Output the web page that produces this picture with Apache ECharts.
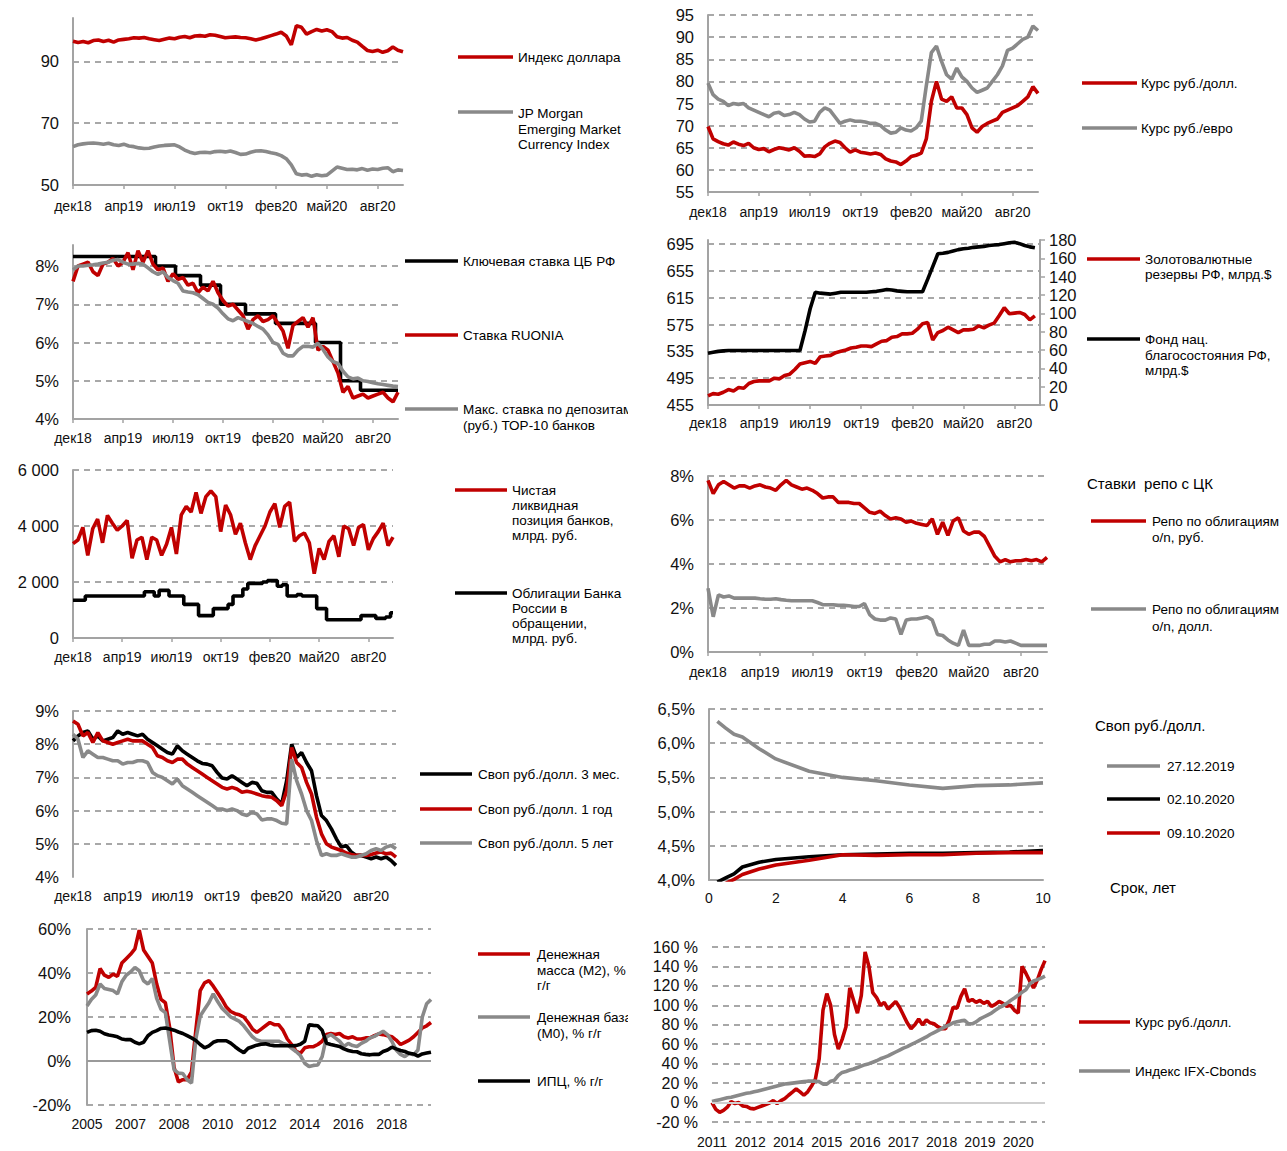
<!DOCTYPE html>
<html><head><meta charset="utf-8">
<script src="https://cdn.jsdelivr.net/npm/echarts@6/dist/echarts.min.js"></script>
<style>
html,body{margin:0;padding:0;background:#fff;width:1287px;height:1151px;overflow:hidden;}
.pn{position:absolute;top:0;height:1151px;overflow:hidden;}
</style></head><body>
<div id="p1" class="pn" style="left:0;width:628px"></div>
<div id="p3" class="pn" style="left:0;width:628px"></div>
<div id="p5" class="pn" style="left:0;width:628px"></div>
<div id="p7" class="pn" style="left:0;width:628px"></div>
<div id="p9" class="pn" style="left:0;width:628px"></div>
<div id="p2" class="pn" style="left:640px;width:647px"></div>
<div id="p4" class="pn" style="left:640px;width:647px"></div>
<div id="p6" class="pn" style="left:640px;width:647px"></div>
<div id="p8" class="pn" style="left:640px;width:647px"></div>
<div id="p10" class="pn" style="left:640px;width:647px"></div>
<script>
// ---------- tick labels / categories ----------
const DATE_TICKS = ['дек18','апр19','июл19','окт19','фев20','май20','авг20'];
const DATE_N = 66;
const MONEY_TICKS = ['2005','2007','2008','2010','2012','2014','2016','2018'];
const MONEY_N = 80;
const CUM_TICKS = ['2011','2012','2014','2015','2016','2017','2018','2019','2020'];
const CUM_N = 88;
const TENORS = [0.25,0.5,0.75,1,1.5,2,3,4,5,6,7,8,9,10];

// ---------- panel 1 ----------
const dollarIndex = [96.5,96.1,96.4,96.0,96.7,96.9,96.4,96.8,96.2,96.9,97.1, 97.3,97.6,97.5,97.7,97.3,97.0,96.7,97.1,97.5,97.3, 97.8,98.0,97.6,98.2,98.3,98.1,98.6,98.4,98.0,97.6, 97.8,97.9,97.7,97.6,97.3,96.9,97.3,97.8,98.3,98.8, 99.4,98.2,95.3,101.5,101.0,98.8,99.6,100.3,99.8,100.2, 99.6,97.9,97.5,97.7,96.8,96.2,94.8,93.5,93.2,93.6, 92.9,93.4,94.6,93.6,93.1];
const jpmEmci = [62.4,63.0,63.3,63.5,63.6,63.4,63.2,63.5,63.0,62.8,63.2, 62.6,62.4,62.0,61.8,61.9,62.3,62.6,62.8,62.9,63.0, 62.3,61.3,60.6,60.2,60.5,60.6,60.4,60.8,60.9,60.7, 61.0,60.5,59.9,60.0,60.6,61.0,61.1,60.8,60.4,60.1, 59.5,58.5,56.5,53.6,53.2,53.4,52.8,53.3,53.0,53.2, 54.5,55.8,55.4,55.0,55.1,54.9,55.3,54.8,55.2,55.0, 55.4,55.6,54.3,54.9,54.7];
// ---------- panel 2 ----------
const usdRub = [69.8,67.0,66.4,65.9,65.6,66.3,65.8,65.5,66.0,65.0,64.6, 64.8,64.1,64.6,65.0,64.8,64.5,65.0,64.2,63.1,63.2, 63.0,63.6,65.2,66.0,66.5,66.2,65.0,64.0,64.5,64.0, 63.8,63.6,63.8,63.5,62.5,62.0,61.8,61.2,62.0,63.0, 63.3,63.8,67.0,75.5,80.0,76.0,75.5,76.5,74.0,74.0, 72.5,69.5,68.5,69.8,70.5,71.0,71.5,73.0,73.5,74.0, 74.5,75.5,76.5,78.8,77.3];
const eurRub = [79.6,77.0,76.0,75.5,74.5,75.0,74.8,75.0,74.0,73.5,73.0, 72.5,72.0,72.8,73.0,72.3,72.5,73.0,72.5,71.5,70.8, 71.0,73.0,74.0,73.5,72.0,70.5,71.0,71.3,71.0,71.0, 70.8,70.5,70.5,70.0,69.0,68.3,68.5,69.5,69.0,68.8, 69.5,71.0,79.0,86.5,88.0,84.5,81.5,80.5,83.0,81.0, 80.0,78.5,77.5,78.0,78.5,80.0,81.5,83.5,87.0,87.5, 88.5,89.5,90.0,92.5,91.5];
// ---------- panel 3 ----------
const keyRate = [8.25,8.25,8.25,8.25,8.25,8.25,8.25,8.25,8.25,8.25,8.25, 8.25,8.25,8.25,8.25,8.25,8.25,8.0,8.0,8.0,8.0, 7.75,7.75,7.75,7.75,7.75,7.5,7.5,7.5,7.5,7.0, 7.0,7.0,7.0,7.0,6.75,6.75,6.75,6.75,6.75,6.75, 6.5,6.5,6.5,6.5,6.5,6.5,6.5,6.5,6.0,6.0, 6.0,6.0,6.0,5.0,5.0,5.0,5.0,4.75,4.75,4.75, 4.75,4.75,4.75,4.75,4.75];
const ruonia = [7.6,8.0,8.05,8.1,7.85,7.75,8.05,8.1,8.2,8.0,8.1, 8.35,7.9,8.4,8.1,8.4,8.05,7.9,7.95,7.6,7.8, 7.65,7.7,7.5,7.55,7.3,7.45,7.35,7.6,7.3,7.1, 6.95,7.0,6.85,6.7,6.35,6.6,6.7,6.55,6.6,6.7, 6.5,6.3,5.85,6.45,6.55,6.65,6.4,6.65,5.8,5.9, 5.8,5.5,5.2,4.7,4.85,4.55,4.6,4.65,4.55,4.6, 4.65,4.7,4.55,4.45,4.7];
const maxDeposit = [7.9,8.0,8.0,8.02,8.03,8.05,8.08,8.1,8.15,8.17,8.1, 8.05,8.05,8.07,8.05,7.95,7.85,7.78,7.85,7.7,7.62, 7.55,7.35,7.32,7.3,7.25,7.15,7.05,7.0,6.9,6.75, 6.62,6.57,6.65,6.6,6.55,6.5,6.42,6.35,6.2,6.0, 5.95,5.72,5.65,5.65,5.8,5.9,5.9,5.88,5.98,5.82, 5.62,5.5,5.45,5.25,5.1,5.05,5.07,5.0,4.98,4.95, 4.92,4.9,4.88,4.86,4.85];
// ---------- panel 4 ----------
const fxReserves = [468.6,472,471,474,478,476,481,480,487,490,491, 491,491,495,494,499,501,508,516,518,520, 517,527,528,529,533,535,537,540,541,543, 543,542,546,550,551,556,557,561,561,562, 568,576,578,552,563,566,571,567,563,567, 567,568,573,570,574,577,588,600,591,592, 593,590,582,588];
const nwFund = [56.5,57.5,58.5,59,59.5,59.5,59.5,59.5,59.5,59.5,59.5, 59.5,59.5,59.5,59.5,59.5,59.5,59.5,59.5,81,105, 123,122,121.5,121,122,123,123,123,123,123, 123,123.5,124,125,126,125.5,124.5,124,123.5,123.5, 123.5,123.5,137,151,165,165.5,166.5,168,169.5,170.5, 171,172,172.5,173,174,174.5,175,176,177,177.5, 176,174,172.5,171.5];
// ---------- panel 5 ----------
const liquidity = [3370,3500,3950,2950,3900,4250,3400,4380,4100,3850,4000, 4200,2850,3500,3600,2800,3600,3500,2950,3350,3950, 3000,4400,4700,4500,5200,4450,5050,5250,5050,3800, 4750,4400,3700,4100,3400,2800,3300,3650,4000,4500, 4800,3950,4700,4850,3450,3650,3750,3400,2300,3200, 2800,3450,3650,2900,4000,3900,3300,3950,4050,3150, 3550,3800,4100,3300,3600];
const cbrBonds = [1350,1350,1350,1500,1500,1500,1500,1500,1500,1500,1500, 1500,1500,1500,1500,1650,1650,1500,1700,1700,1500, 1500,1500,1200,1200,1200,800,800,800,1050,1050, 1050,1200,1500,1500,1750,1950,1950,1950,2000,2050, 2050,1850,1900,1500,1500,1550,1500,1500,1500,1050, 1050,650,650,650,650,650,650,650,800,800, 800,700,700,750,900];
// ---------- panel 6 ----------
const repoRub = [7.8,7.2,7.6,7.75,7.6,7.45,7.55,7.55,7.45,7.55,7.6, 7.5,7.45,7.35,7.6,7.8,7.6,7.5,7.4,7.45,7.35, 7.2,7.0,7.05,7.05,6.8,6.8,6.8,6.75,6.75,6.55, 6.35,6.3,6.4,6.2,6.05,6.1,6.05,5.9,5.95,5.85, 5.8,5.75,6.05,5.35,5.9,5.3,5.95,6.1,5.5,5.35, 5.45,5.45,5.25,4.8,4.35,4.1,4.2,4.1,4.15,4.15, 4.2,4.15,4.2,4.1,4.3];
const repoUsd = [2.9,1.6,2.6,2.5,2.55,2.45,2.45,2.45,2.45,2.45,2.42, 2.4,2.4,2.42,2.38,2.35,2.33,2.33,2.33,2.33,2.33, 2.25,2.15,2.15,2.15,2.12,2.12,2.1,2.07,2.07,2.2, 1.7,1.5,1.45,1.45,1.55,1.5,0.8,1.45,1.5,1.5, 1.55,1.6,1.45,0.8,0.75,0.55,0.4,0.3,1.0,0.3, 0.3,0.3,0.35,0.35,0.5,0.5,0.45,0.5,0.4,0.3, 0.3,0.3,0.3,0.3,0.3];
// ---------- panel 7 ----------
const swap3m = [8.1,8.25,8.35,8.4,8.15,8.25,8.1,8.15,8.2,8.4,8.3, 8.35,8.3,8.25,8.3,8.15,8.05,7.95,7.85,7.75,7.7, 7.95,7.8,7.7,7.6,7.5,7.42,7.4,7.35,7.15,6.98, 6.95,7.05,6.95,6.85,6.75,6.85,6.82,6.6,6.55,6.55, 6.35,6.2,6.9,8.0,7.6,7.75,7.45,7.2,6.45,5.85, 5.7,5.45,5.15,4.9,4.95,4.75,4.65,4.65,4.6,4.55, 4.6,4.55,4.6,4.5,4.35];
const swap1y = [8.7,8.6,8.25,8.35,8.05,8.35,8.1,8.05,8.0,8.05,8.1, 8.15,8.1,8.1,8.1,8.0,7.9,7.65,7.6,7.5,7.45, 7.55,7.55,7.4,7.3,7.2,7.1,7.0,6.9,6.8,6.7, 6.65,6.7,6.65,6.55,6.58,6.55,6.5,6.45,6.42,6.4, 6.3,6.15,6.6,7.9,7.45,7.3,6.85,6.5,5.8,5.3, 5.0,4.9,4.85,4.8,4.72,4.68,4.65,4.65,4.65,4.68, 4.72,4.75,4.7,4.72,4.6];
const swap5y = [8.3,8.15,7.6,7.8,7.7,7.6,7.6,7.55,7.5,7.5,7.4, 7.45,7.45,7.5,7.5,7.45,7.15,7.05,7.0,6.9,6.8, 6.95,6.75,6.65,6.55,6.45,6.35,6.25,6.15,6.05,6.05, 6.0,6.05,6.0,5.9,5.85,5.95,5.9,5.72,5.75,5.75, 5.7,5.62,5.6,7.55,6.9,6.5,6.0,5.7,5.1,4.65, 4.7,4.65,4.65,4.7,4.65,4.6,4.6,4.65,4.7,4.8, 4.85,4.8,4.9,4.95,4.85];
// ---------- panel 8 ----------
const curve20191227 = [6.32,6.22,6.13,6.09,5.92,5.77,5.59,5.5,5.45,5.39,5.34,5.38,5.39,5.42];
const curve20201002 = [3.97,4.03,4.09,4.19,4.26,4.3,4.34,4.37,4.38,4.39,4.39,4.4,4.41,4.43];
const curve20201009 = [3.88,3.95,4.01,4.08,4.16,4.22,4.29,4.37,4.36,4.37,4.37,4.39,4.4,4.4];
// ---------- panel 9 ----------
const m2 = [30.5,31.8,33.5,42,39,38,39.5,38.5,44.5,46.5, 48.5,51,59.5,50.5,47.5,44.5,35,28,26.5,15, -3,-9.5,-8.5,-8.5,-5,14,32,35.5,36.5,34, 31,28,24.5,22.5,21.5,21,20,17.5,14.5,13, 14.5,16,17.5,16.5,16.5,14,10,7.5,4.5,3.5, 6,6.5,6.5,7.5,9,12,12.5,12,12.5,11, 10.5,11,10,10,10.5,10.5,11.5,12.3,12,11.5, 11,9.5,7.5,8.5,9.5,11,13,15,16,17.5];
const m0 = [25,28,30,35,33,32.5,32,30.5,36,39, 40.5,42.5,41,36.5,35,37.5,28.5,23.5,22,9, -4,-5.5,-5.7,-8.5,-10,10,20.5,23.5,26.5,30.5, 27,24,22,20,19,18,16,13.5,11,9.5, 9,9,9,9,9,8,7.4,5.8,4.3,2.5, -1,-2.5,-2,-1.8,2,11,12,10.5,9,6.6, 8,7,6.6,8,9,10.5,11.2,12.4,13.5,12, 9,5,3,2,3.5,2.8,5,20,26,28];
const cpi = [13,13.8,14,13.5,12.4,11.8,11.5,11,10,9.7, 9.7,8.5,7.8,8.5,11.5,13,13.8,14.8,15,14.5, 14,13.2,12.5,11.5,10.5,9.3,7.5,6,6.9,8.5, 9.2,9.2,9.2,8.1,6.5,5,3.8,5.8,6.5,7.2, 7.6,7.8,7.3,7,6.9,6.9,6.9,6.9,7,7.6, 9,16.5,16.2,16,14,8.1,7.5,7,6.6,5.5, 4.8,4.3,4.2,3.3,3,2.8,3.1,3,4.3,5, 6.3,5.5,4.8,4.3,3.5,3.2,2.2,3.2,3.6,4];
// ---------- panel 10 ----------
const usdRubCum = [0,-7,-10,-8,-4.8,1,-1,0,-3.5,-4, -6,-6.5,-5,-3.5,-2,-0.5,2,-1,2,4, 7.5,10.7,14,11,7.5,11,17,24,45,95, 112,100,70,55,65,78,118,105,92,110, 155,140,113,108,100,103,96,100,104,98, 90,82,76,80,86,80,85,82,81,78, 76,76,85,98,97,109,117,104,106,103, 105,102,104,99,101,104,102,99,100,95, 92,140,133,125,118,126,137,146];
const ifxCbonds = [1,2,3,4,5,5.5,6.5,7.5,8.5,9.5, 10,11,12,13,14,15,16,17,18,19, 19.5,20,20.5,21,21.5,22,22,22,21.5,19, 19,22,23,28,31,32,33.5,34.5,36,37.5, 39,40,41.5,43,45,46.5,48,50,52,54, 56,57.5,59.5,61.5,63.5,65.5,67.5,70,72,74, 76,78,80,82,83,84,84.5,81,81,83, 86,88,90,92,95,97.5,99.5,102,105,107.5, 110.5,113.5,116,122,125,126.5,128,130];

// ---------- styling helpers ----------
const FONT = '"Liberation Sans", Arial, Helvetica, sans-serif';
const RED = '#c00000', GRAY = '#898989', BLACK = '#000000';
const GRIDC = '#8c8c8c', AXISC = '#a3a3a3', TXT = '#111111';
const LW = 3.6;
const pct = v => v + '%';

function catAxis(n, ticks, o) {
  o = o || {};
  return {
    type: 'category', boundaryGap: false,
    data: Array.from({length: n}, (_, i) => String(i)),
    axisLine: {show: o.line !== false, lineStyle: {color: AXISC, width: 2}},
    axisTick: {show: !!o.tick, interval: 9, length: 4, lineStyle: {color: AXISC, width: 1.5}},
    axisLabel: {interval: 9, margin: o.margin || 12, fontSize: 14, color: TXT, fontFamily: FONT,
      formatter: (v, i) => (i % 10 === 0 && ticks[i / 10]) ? ticks[i / 10] : ''},
    splitLine: {show: false}
  };
}
function valAxis(min, max, interval, fmt, o) {
  o = o || {};
  return {
    type: 'value', min: min, max: max, interval: interval, position: o.pos || 'left',
    axisLine: {show: o.line !== false, lineStyle: {color: AXISC, width: 2}},
    axisTick: {show: !!o.tick, length: 5, lineStyle: {color: AXISC, width: 1.5}},
    axisLabel: {fontSize: o.fs || 16.5, color: TXT, fontFamily: FONT, margin: o.margin || 14,
      formatter: fmt, showMaxLabel: o.maxLabel !== false, showMinLabel: true},
    splitLine: {show: o.split !== false, showMinLine: !!o.minLine, showMaxLine: o.maxLine !== false,
      lineStyle: {color: GRIDC, width: 1.6, type: [6, 5]}}
  };
}
function ln(data, color, o) {
  o = o || {};
  const s = {type: 'line', data: data, showSymbol: false, symbol: 'none', silent: true,
    lineStyle: {color: color, width: LW}, itemStyle: {color: color}, animation: false,
    yAxisIndex: o.y || 0, xAxisIndex: 0};
  if (o.step) s.step = o.step;
  if (o.zero) s.markLine = {silent: true, symbol: 'none', animation: false, label: {show: false},
    lineStyle: {color: o.zero, type: 'solid', width: 1.8}, data: [{yAxis: 0}]};
  return s;
}
function grid(colLeft, L, T, R, B) {
  return {left: L - colLeft, top: T, width: R - L, height: B - T, containLabel: false, outerBoundsMode: 'none'};
}
// legend/title graphics (positions in page coordinates, shifted by column)
function gfx(colLeft, items, texts) {
  const out = [];
  items.forEach(it => {
    out.push({type: 'line', silent: true, shape: {x1: it.x1 - colLeft, y1: it.y, x2: it.x2 - colLeft, y2: it.y},
      style: {stroke: it.c, lineWidth: 3.4}});
  });
  texts.forEach(t => {
    out.push({type: 'text', silent: true, x: t[1] - colLeft, y: t[2],
      style: {text: t[0], x: 0, y: 0, fill: '#000', font: (t[3] || 13.5) + 'px ' + FONT,
        align: 'left', verticalAlign: 'middle', textAlign: 'left', textVerticalAlign: 'middle'}});
  });
  return out;
}
function mk(id, opt) {
  const c = echarts.init(document.getElementById(id), null, {renderer: 'svg'});
  opt.animation = false;
  opt.textStyle = {fontFamily: FONT};
  c.setOption(opt);
}

// ---------- Panel 1 ----------
mk('p1', {
  grid: grid(0, 73, 18, 403, 185),
  xAxis: catAxis(DATE_N, DATE_TICKS, {tick: true, margin: 14}),
  yAxis: valAxis(50, 104, 20, v => v, {maxLabel: false, maxLine: false}),
  series: [ln(jpmEmci, GRAY), ln(dollarIndex, RED)],
  graphic: gfx(0, [{x1: 458, x2: 513, y: 57, c: RED}, {x1: 458, x2: 513, y: 112, c: GRAY}],
    [['Индекс доллара', 518, 57], ['JP Morgan', 518, 113], ['Emerging Market', 518, 129], ['Currency Index', 518, 144]])
});
// ---------- Panel 2 ----------
mk('p2', {
  grid: grid(640, 708, 15, 1038, 192),
  xAxis: catAxis(DATE_N, DATE_TICKS, {tick: true, margin: 13}),
  yAxis: valAxis(55, 95, 5, v => v),
  series: [ln(eurRub, GRAY), ln(usdRub, RED)],
  graphic: gfx(640, [{x1: 1082, x2: 1137, y: 83, c: RED}, {x1: 1082, x2: 1137, y: 128, c: GRAY}],
    [['Курс руб./долл.', 1141, 83], ['Курс руб./евро', 1141, 128]])
});
// ---------- Panel 3 ----------
mk('p3', {
  grid: grid(0, 73, 245, 398, 419),
  xAxis: catAxis(DATE_N, DATE_TICKS, {tick: true, margin: 12}),
  yAxis: valAxis(4, 8.55, 1, pct, {maxLabel: false, maxLine: false}),
  series: [ln(keyRate, BLACK, {step: 'middle'}), ln(ruonia, RED), ln(maxDeposit, GRAY)],
  graphic: gfx(0, [{x1: 405, x2: 458, y: 261, c: BLACK}, {x1: 405, x2: 458, y: 335, c: RED}, {x1: 405, x2: 458, y: 409, c: GRAY}],
    [['Ключевая ставка ЦБ РФ', 463, 261], ['Ставка RUONIA', 463, 335], ['Макс. ставка по депозитам', 463, 409], ['(руб.) ТОР-10 банков', 463, 425]])
});
// ---------- Panel 4 ----------
mk('p4', {
  grid: grid(640, 708, 240, 1040, 405),
  xAxis: catAxis(DATE_N, DATE_TICKS, {tick: true, margin: 11}),
  yAxis: [valAxis(455, 701, 40, v => v, {maxLabel: false, maxLine: false}),
          valAxis(0, 180, 20, v => v, {pos: 'right', split: false, tick: true, margin: 9})],
  series: [ln(nwFund, BLACK, {y: 1}), ln(fxReserves, RED)],
  graphic: gfx(640, [{x1: 1087, x2: 1140, y: 259, c: RED}, {x1: 1087, x2: 1140, y: 339, c: BLACK}],
    [['Золотовалютные', 1145, 259], ['резервы РФ, млрд.$', 1145, 274], ['Фонд нац.', 1145, 339], ['благосостояния РФ,', 1145, 355], ['млрд.$', 1145, 370]])
});
// ---------- Panel 5 ----------
mk('p5', {
  grid: grid(0, 73, 470, 393, 638),
  xAxis: catAxis(DATE_N, DATE_TICKS, {tick: true, margin: 12}),
  yAxis: valAxis(0, 6000, 2000, v => v === 0 ? '0' : (v / 1000) + ' 000'),
  series: [ln(cbrBonds, BLACK, {step: 'middle'}), ln(liquidity, RED)],
  graphic: gfx(0, [{x1: 455, x2: 507, y: 490, c: RED}, {x1: 455, x2: 507, y: 593, c: BLACK}],
    [['Чистая', 512, 490], ['ликвидная', 512, 505], ['позиция банков,', 512, 520], ['млрд. руб.', 512, 535],
     ['Облигации Банка', 512, 593], ['России в', 512, 608], ['обращении,', 512, 623], ['млрд. руб.', 512, 638]])
});
// ---------- Panel 6 ----------
mk('p6', {
  grid: grid(640, 708, 476, 1047, 652),
  xAxis: catAxis(DATE_N, DATE_TICKS, {tick: true, margin: 13}),
  yAxis: valAxis(0, 8, 2, pct),
  series: [ln(repoUsd, GRAY), ln(repoRub, RED)],
  graphic: gfx(640, [{x1: 1091, x2: 1146, y: 521, c: RED}, {x1: 1091, x2: 1146, y: 609, c: GRAY}],
    [['Ставки  репо с ЦК', 1087, 483, 15], ['Репо по облигациям', 1152, 521], ['о/n, руб.', 1152, 537], ['Репо по облигациям', 1152, 609], ['о/n, долл.', 1152, 626]])
});
// ---------- Panel 7 ----------
mk('p7', {
  grid: grid(0, 73, 711, 396, 877),
  xAxis: catAxis(DATE_N, DATE_TICKS, {line: false, margin: 12}),
  yAxis: valAxis(4, 9, 1, pct),
  series: [ln(swap3m, BLACK), ln(swap1y, RED), ln(swap5y, GRAY)],
  graphic: gfx(0, [{x1: 420, x2: 472, y: 774, c: BLACK}, {x1: 420, x2: 472, y: 809, c: RED}, {x1: 420, x2: 472, y: 843, c: GRAY}],
    [['Своп руб./долл. 3 мес.', 478, 774], ['Своп руб./долл. 1 год', 478, 809], ['Своп руб./долл. 5 лет', 478, 843]])
});
// ---------- Panel 8 ----------
mk('p8', {
  grid: grid(640, 709, 709, 1043, 880),
  xAxis: {type: 'value', min: 0, max: 10, interval: 2,
    axisLine: {show: true, onZero: false, lineStyle: {color: AXISC, width: 2}}, axisTick: {show: false},
    axisLabel: {fontSize: 14, color: TXT, fontFamily: FONT, margin: 11}, splitLine: {show: false}},
  yAxis: valAxis(4, 6.5, 0.5, v => v.toFixed(1).replace('.', ',') + '%'),
  series: [ln(TENORS.map((t, i) => [t, curve20191227[i]]), GRAY),
           ln(TENORS.map((t, i) => [t, curve20201002[i]]), BLACK),
           ln(TENORS.map((t, i) => [t, curve20201009[i]]), RED)],
  graphic: gfx(640, [{x1: 1107, x2: 1160, y: 766, c: GRAY}, {x1: 1107, x2: 1160, y: 799, c: BLACK}, {x1: 1107, x2: 1160, y: 833, c: RED}],
    [['Своп руб./долл.', 1095, 725, 15], ['27.12.2019', 1167, 766], ['02.10.2020', 1167, 799], ['09.10.2020', 1167, 833], ['Срок, лет', 1110, 887, 15]])
});
// ---------- Panel 9 ----------
mk('p9', {
  grid: grid(0, 87, 929, 431, 1105),
  xAxis: catAxis(MONEY_N, MONEY_TICKS, {line: false, margin: 12}),
  yAxis: valAxis(-20, 60, 20, pct, {minLine: true, margin: 16}),
  series: [ln(m2, RED, {zero: '#9a9a9a'}), ln(m0, GRAY), ln(cpi, BLACK)],
  graphic: gfx(0, [{x1: 478, x2: 530, y: 954, c: RED}, {x1: 478, x2: 530, y: 1017, c: GRAY}, {x1: 478, x2: 530, y: 1081, c: BLACK}],
    [['Денежная', 537, 954], ['масса (М2), %', 537, 970], ['г/г', 537, 985], ['Денежная база', 537, 1017], ['(М0), % г/г', 537, 1033], ['ИПЦ, % г/г', 537, 1081]])
});
// ---------- Panel 10 ----------
mk('p10', {
  grid: grid(640, 712, 947, 1045, 1122),
  xAxis: catAxis(CUM_N, CUM_TICKS, {line: false, margin: 13}),
  yAxis: valAxis(-20, 160, 20, v => v + ' %', {line: false, minLine: true, margin: 14, fs: 16}),
  series: [ln(usdRubCum, RED, {zero: '#cfcfcf'}), ln(ifxCbonds, GRAY)],
  graphic: gfx(640, [{x1: 1079, x2: 1130, y: 1022, c: RED}, {x1: 1079, x2: 1130, y: 1071, c: GRAY}],
    [['Курс руб./долл.', 1135, 1022], ['Индекс IFX-Cbonds', 1135, 1071]])
});
</script>
</body></html>
